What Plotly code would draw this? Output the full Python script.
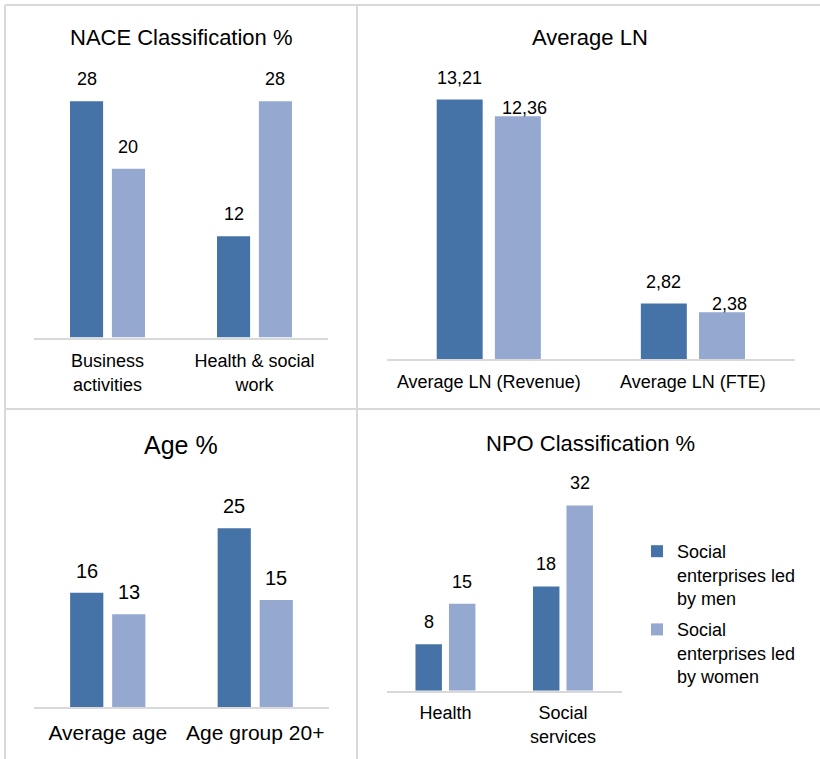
import plotly.graph_objects as go

# ---- data -------------------------------------------------------------
series_names = ["Social<br>enterprises led<br>by men", "Social<br>enterprises led<br>by women"]

nace_cats = ["Business<br>activities", "Health & social<br>work"]
nace_men = [28, 12]
nace_women = [20, 28]

ln_cats = ["Average LN (Revenue)", "Average LN (FTE)"]
ln_men = [13.21, 2.82]
ln_women = [12.36, 2.38]

age_cats = ["Average age", "Age group 20+"]
age_men = [16, 25]
age_women = [13, 15]

npo_cats = ["Health", "Social<br>services"]
npo_men = [8, 18]
npo_women = [15, 32]

# ---- styling ----------------------------------------------------------
W, H = 820, 759
DARK = "#4673a7"
LIGHT = "#95a9d0"
GRID = "#d9d9d9"
FONT = "Arial, Liberation Sans, sans-serif"
BARGAP = 0.43
GROUPGAP = 0.21


def fx(px):
    return px / W


def fy(py):
    return 1 - py / H


def fmt(v):
    if float(v).is_integer():
        return str(int(v))
    return f"{v:.2f}".replace(".", ",")


# panel layout: x extent of plot area, baseline, top of area (pixels), y max
panels = [
    dict(cats=nace_cats, men=nace_men, women=nace_women, title="NACE Classification %",
         xpx=(34, 328), ybot=337.5, ytop=84.3, ymax=30, tsize=22, fsize=18, lsize=18,
         title_xy=(181, 38), standoff=6),
    dict(cats=ln_cats, men=ln_men, women=ln_women, title="Average LN",
         xpx=(386.7, 795), ybot=359, ytop=84, ymax=14, tsize=22, fsize=18, lsize=18,
         title_xy=(590, 38), standoff=5),
    dict(cats=age_cats, men=age_men, women=age_women, title="Age %",
         xpx=(34, 329), ybot=707.3, ytop=506.8, ymax=28, tsize=25, fsize=21, lsize=20,
         title_xy=(181, 445), standoff=5),
    dict(cats=npo_cats, men=npo_men, women=npo_women, title="NPO Classification %",
         xpx=(386.7, 621.7), ybot=690.7, ytop=493.8, ymax=34, tsize=22, fsize=18, lsize=18,
         title_xy=(590, 443), standoff=5),
]

fig = go.Figure()
annotations = []
layout_axes = {}
half = (1 - BARGAP) / 4  # offset of each bar centre from its category centre

for i, p in enumerate(panels, start=1):
    xa = "x" if i == 1 else f"x{i}"
    ya = "y" if i == 1 else f"y{i}"
    for name, vals, color, show in [
        (series_names[0], p["men"], DARK, i == 1),
        (series_names[1], p["women"], LIGHT, i == 1),
    ]:
        fig.add_trace(go.Bar(
            x=p["cats"], y=vals, name=name, marker=dict(color=color, line=dict(width=0)),
            xaxis=xa, yaxis=ya, showlegend=show, legendgroup=name,
        ))
    layout_axes[f"xaxis{'' if i == 1 else i}"] = dict(
        domain=[fx(p["xpx"][0]), fx(p["xpx"][1])], anchor=ya,
        showline=True, linecolor=GRID, linewidth=2, ticks="",
        ticklabelstandoff=p["standoff"],
        showgrid=False, zeroline=False, type="category",
        tickfont=dict(size=p["fsize"], color="#000000", family=FONT),
        range=[-0.5, 1.5],
    )
    layout_axes[f"yaxis{'' if i == 1 else i}"] = dict(
        domain=[fy(p["ybot"]), fy(p["ytop"])], anchor=xa, range=[0, p["ymax"]],
        visible=False, showgrid=False, zeroline=False,
    )
    # value labels above bars
    for k in range(len(p["cats"])):
        for side, vals in ((-1, p["men"]), (1, p["women"])):
            xshift, yshift = 0, 22
            if i == 2 and side == 1:
                xshift, yshift = 7, 8
            annotations.append(dict(
                x=k + side * half, y=vals[k], xref=xa, yref=ya,
                text=fmt(vals[k]), showarrow=False, xanchor="center", yanchor="middle",
                xshift=xshift, yshift=yshift,
                font=dict(size=p["lsize"], color="#000000", family=FONT),
            ))
    # panel title
    annotations.append(dict(
        x=fx(p["title_xy"][0]), y=fy(p["title_xy"][1]), xref="paper", yref="paper",
        text=p["title"], showarrow=False, xanchor="center", yanchor="middle",
        font=dict(size=p["tsize"], color="#000000", family=FONT),
    ))

# panel frame lines
frame = [
    ((5, 5), (W, 5)),
    ((5, 5), (5, H)),
    ((357, 5), (357, H)),
    ((5, 409), (W, 409)),
]
shapes = [
    dict(type="line", xref="paper", yref="paper",
         x0=fx(a[0]), y0=fy(a[1]), x1=fx(b[0]), y1=fy(b[1]),
         line=dict(color=GRID, width=2))
    for a, b in frame
]

fig.update_layout(
    width=W, height=H, margin=dict(l=0, r=0, t=0, b=0),
    paper_bgcolor="white", plot_bgcolor="white",
    barmode="group", bargap=BARGAP, bargroupgap=GROUPGAP,
    font=dict(family=FONT, color="#000000"),
    annotations=annotations, shapes=shapes,
    legend=dict(x=fx(637), y=fy(533), xanchor="left", yanchor="top",
                font=dict(size=18, color="#000000", family=FONT),
                valign="top", bgcolor="rgba(0,0,0,0)", tracegroupgap=5),
    separators=",.",
    **layout_axes,
)

fig.write_html("out.html")
